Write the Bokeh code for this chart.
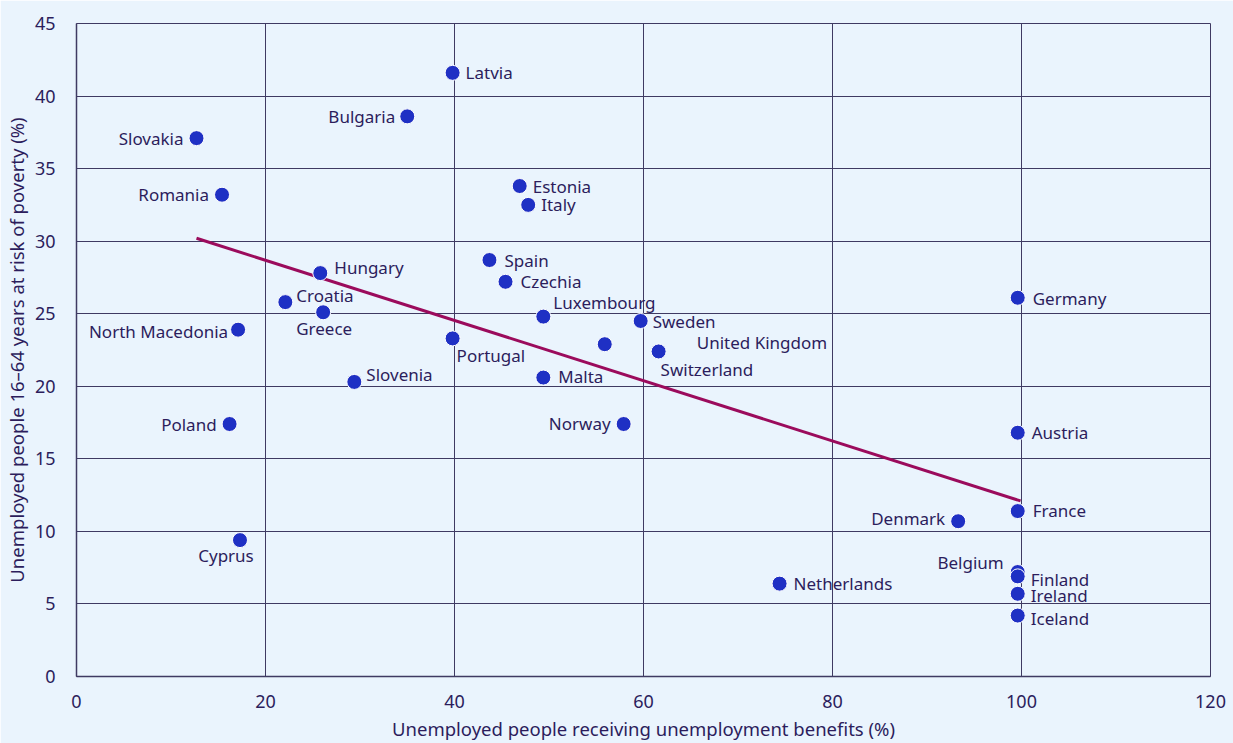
from bokeh.plotting import figure
from bokeh.models import ColumnDataSource, FixedTicker, Range1d
from bokeh.core.properties import value
from bokeh.embed import file_html
from bokeh.resources import INLINE

countries = ["Slovakia", "Romania", "Latvia", "Bulgaria", "Estonia", "Italy", "Spain", "Czechia",
             "Hungary", "Croatia", "Greece", "North Macedonia", "Portugal", "Luxembourg", "Sweden",
             "United Kingdom", "Switzerland", "Malta", "Slovenia", "Norway", "Poland", "Cyprus",
             "Germany", "Austria", "France", "Denmark", "Belgium", "Finland", "Ireland", "Iceland",
             "Netherlands"]
benefits = [12.7, 15.4, 39.8, 35.0, 46.9, 47.8, 43.7, 45.4,
            25.8, 22.1, 26.1, 17.1, 39.8, 49.4, 59.7,
            55.9, 61.6, 49.4, 29.4, 57.9, 16.2, 17.3,
            99.6, 99.6, 99.6, 93.3, 99.6, 99.6, 99.6, 99.6,
            74.4]
poverty = [37.1, 33.2, 41.6, 38.6, 33.8, 32.5, 28.7, 27.2,
           27.8, 25.8, 25.1, 23.9, 23.3, 24.8, 24.5,
           22.9, 22.4, 20.6, 20.3, 17.4, 17.4, 9.4,
           26.1, 16.8, 11.4, 10.7, 7.2, 6.9, 5.7, 4.2,
           6.4]
trend_x = [12.7, 99.9]
trend_y = [30.2, 12.1]
x_ticks = [0, 20, 40, 60, 80, 100, 120]
y_ticks = [0, 5, 10, 15, 20, 25, 30, 35, 40, 45]

# label placement (screen pixels) per country
label_dx = [-13, -13, 13, -12, 13, 13, 15, 15,
            14, 11, 1, -10, 4, 10, 12,
            92, 2, 15, 12, -13, -13, -14,
            15, 14, 15, -13, -14, 13, 13, 13,
            14]
label_dy = [0, 0, 0, 0, 0, 0, 0, 0,
            -6, -7, 16, 2, 17, -14, 1,
            -2, 18, -1, -7, -1, 0, 15,
            1, 0, -1, -3, -10, 3, 2, 3,
            0]
label_align = ["right", "right", "left", "right", "left", "left", "left", "left",
               "left", "left", "center", "right", "left", "left", "left",
               "left", "left", "left", "left", "right", "right", "center",
               "left", "left", "left", "right", "right", "left", "left", "left",
               "left"]

BG = "#eaf4fd"
TXT = "#2c1d5c"
GRID = "#3f3a62"
FONT = "Noto Sans"

src = ColumnDataSource(dict(name=countries, x=benefits, y=poverty,
                            dx=label_dx, dy=label_dy, align=label_align))

p = figure(width=1233, height=743, output_backend="svg", toolbar_location=None,
           x_range=Range1d(0, 120), y_range=Range1d(0, 45),
           min_border_left=75, min_border_right=23, min_border_top=23, min_border_bottom=67)
p.background_fill_color = BG
p.border_fill_color = BG
p.outline_line_color = GRID
p.outline_line_width = 1

p.xaxis.ticker = FixedTicker(ticks=x_ticks)
p.yaxis.ticker = FixedTicker(ticks=y_ticks)
for ax in (p.xaxis, p.yaxis):
    ax.major_tick_line_color = None
    ax.minor_tick_line_color = None
    ax.axis_line_color = GRID
    ax.axis_line_width = 1.5
    ax.major_label_text_font = FONT
    ax.major_label_text_font_size = "18px"
    ax.major_label_text_color = TXT
    ax.axis_label_text_font = FONT
    ax.axis_label_text_font_size = "18.5px"
    ax.axis_label_text_color = TXT
    ax.axis_label_text_font_style = "normal"
p.xaxis.axis_label = "Unemployed people receiving unemployment benefits (%)"
p.yaxis.axis_label = "Unemployed people 16–64 years at risk of poverty (%)"
p.xaxis.major_label_standoff = 12
p.xaxis.axis_label_standoff = 5
p.yaxis.major_label_standoff = 15
p.yaxis.axis_label_standoff = 3

p.xgrid.ticker = FixedTicker(ticks=x_ticks)
p.ygrid.ticker = FixedTicker(ticks=y_ticks)
p.grid.grid_line_color = GRID
p.grid.grid_line_width = 1
p.grid.grid_line_alpha = 1

p.line(trend_x, trend_y, line_color="#9b0b5c", line_width=3)
p.scatter("x", "y", source=src, size=15, fill_color="#1f30c4", line_color="white", line_width=1)
p.text("x", "y", text="name", source=src, x_offset="dx", y_offset="dy",
       text_align="align", text_baseline="middle", text_font=value(FONT),
       text_font_size="17px", text_color=TXT)

open("out.html", "w").write(file_html(p, INLINE))
